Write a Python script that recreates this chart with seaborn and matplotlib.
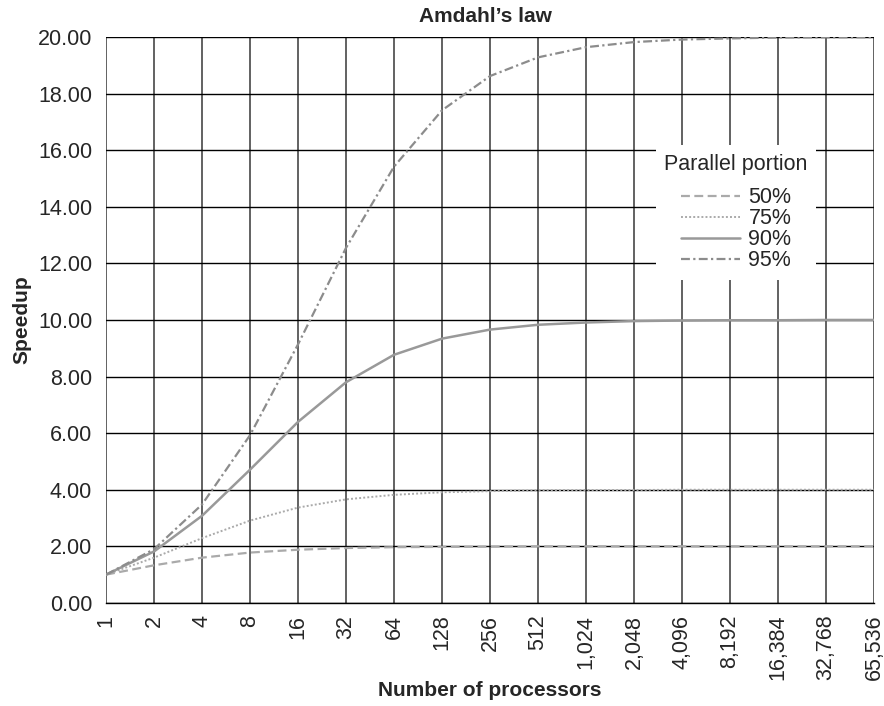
import numpy as np
import pandas as pd
import matplotlib
matplotlib.use("Agg")
import matplotlib.pyplot as plt
import seaborn as sns

# Data
processors = ["1", "2", "4", "8", "16", "32", "64", "128", "256", "512", "1,024",
              "2,048", "4,096", "8,192", "16,384", "32,768", "65,536"]
speedup_50 = [1.00, 1.33, 1.60, 1.78, 1.88, 1.94, 1.97, 1.98, 1.99, 2.00, 2.00,
              2.00, 2.00, 2.00, 2.00, 2.00, 2.00]
speedup_75 = [1.00, 1.60, 2.29, 2.91, 3.37, 3.66, 3.82, 3.91, 3.95, 3.98, 3.99,
              3.99, 4.00, 4.00, 4.00, 4.00, 4.00]
speedup_90 = [1.00, 1.82, 3.08, 4.71, 6.40, 7.80, 8.77, 9.34, 9.66, 9.83, 9.91,
              9.96, 9.98, 9.99, 9.99, 10.00, 10.00]
speedup_95 = [1.00, 1.90, 3.48, 5.93, 9.14, 12.55, 15.42, 17.41, 18.62, 19.28, 19.64,
              19.82, 19.91, 19.95, 19.98, 19.99, 19.99]
y_ticks = [0, 2, 4, 6, 8, 10, 12, 14, 16, 18, 20]

sns.set_style("white")
plt.rcParams['font.family'] = ['Liberation Sans', 'DejaVu Sans']
FS = 15.5

fig = plt.figure(figsize=(8.84, 7.06), dpi=100)
ax = fig.add_axes([0.12, 0.146, 0.8687, 0.8016])

pos = np.arange(len(processors))
series = [
    ("50%", speedup_50, "#aaaaaa", (0, (4, 2)), 1.6),
    ("75%", speedup_75, "#aaaaaa", (0, (1, 1.1)), 1.4),
    ("90%", speedup_90, "#999999", "-", 1.8),
    ("95%", speedup_95, "#8c8c8c", (0, (4, 1.5, 1, 1.5)), 1.6),
]
for label, vals, col, ls, lw in series:
    sns.lineplot(x=pos, y=vals, ax=ax, color=col, linestyle=ls, linewidth=lw,
                 label=label, zorder=3)

ax.set_xlim(0, len(processors) - 1)
ax.set_ylim(0, 20)
ax.set_xticks(pos)
ax.set_xticklabels(processors, rotation=90, fontsize=FS)
ax.set_yticks(y_ticks)
ax.set_yticklabels([f"{v:.2f}" for v in y_ticks], fontsize=FS)

ax.grid(axis="y", color="black", linewidth=1.0, zorder=1)
ax.grid(axis="x", color="#555555", linewidth=1.3, zorder=1)
ax.set_axisbelow(True)
for s in ["top", "right", "left"]:
    ax.spines[s].set_visible(False)
ax.spines["bottom"].set_color("black")
ax.spines["bottom"].set_linewidth(1.0)
ax.tick_params(axis="x", direction="out", length=6.5, width=1.3, color="#555555", pad=2)
ax.tick_params(axis="y", direction="out", length=5, width=1.0, color="black", pad=5)

fig.text(0.549, 1 - 16 / 706, "Amdahl\u2019s law", fontsize=15, fontweight="bold",
         ha="center", va="center")
ax.set_xlabel("Number of processors", fontsize=15, fontweight="bold")
ax.set_ylabel("Speedup", fontsize=15, fontweight="bold")
ax.xaxis.set_label_coords(0.5, -0.154)
ax.yaxis.set_label_coords(-0.11, 0.5)
ax.xaxis.label.set_va("center")
ax.yaxis.label.set_va("center")

leg = ax.legend(title="Parallel portion", loc="upper center",
                bbox_to_anchor=(0.8203, 0.809), fontsize=FS, title_fontsize=FS,
                frameon=True, fancybox=False, handlelength=2.75, handletextpad=0.4,
                labelspacing=0.0, borderpad=0.4, borderaxespad=0)
leg.get_frame().set_facecolor("white")
leg.get_frame().set_edgecolor("none")
leg.get_frame().set_alpha(1)
leg._legend_box.sep = 9
leg.set_zorder(5)

fig.savefig("out.png", dpi=100)
